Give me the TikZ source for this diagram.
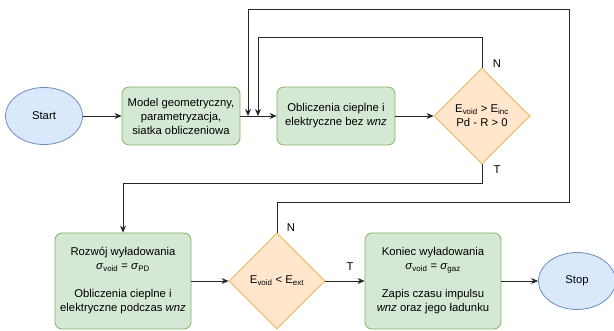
\documentclass[tikz,border=0pt]{standalone}
\usepackage{fontspec}
\setmainfont{Liberation Sans}
\usepackage{xcolor}
\usetikzlibrary{shapes.geometric, arrows.meta}

\definecolor{stepfill}{HTML}{D5E8D4}
\definecolor{stepline}{HTML}{82B366}
\definecolor{testfill}{HTML}{FFE6CC}
\definecolor{testline}{HTML}{E8B040}
\definecolor{termfill}{HTML}{DAE8FC}
\definecolor{termline}{HTML}{6C8EBF}

\begin{document}
\begin{tikzpicture}[
  x=1pt, y=1pt,
  every node/.style={font=\fontsize{11.3}{14}\selectfont, align=center},
  stepbox/.style={draw=stepline, fill=stepfill, rounded corners=7pt, line width=0.8pt, minimum width=118pt, minimum height=58pt, inner sep=1pt},
  bigbox/.style={stepbox, minimum width=136pt, minimum height=96pt},
  test/.style={diamond, draw=testline, fill=testfill, line width=0.8pt, minimum size=96pt, inner sep=0pt},
  term/.style={ellipse, draw=termline, fill=termfill, line width=0.8pt, minimum width=77pt, minimum height=57pt},
  lbl/.style={font=\fontsize{11.3}{14}\selectfont},
  arr/.style={-{Stealth[length=7pt,width=6pt]}, line width=0.8pt, draw=black!85}
]
\useasboundingbox (0,0) rectangle (614,331);

% main row
\node[term] (start) at (44,215) {Start};
\node[stepbox] (model) at (181,215) {Model geometryczny,\\parametryzacja,\\siatka obliczeniowa};
\node[stepbox] (oblicz) at (336,215) {Obliczenia cieplne i\\elektryczne bez \textit{wnz}};
\node[test] (warunek) at (482,215) {E\textsubscript{void} > E\textsubscript{inc}\\Pd - R > 0};

% lower row
\node[bigbox] (rozwoj) at (123,50) {Rozwój wyładowania\\\textit{σ}\textsubscript{void} = \textit{σ}\textsubscript{PD}\\[14pt]Obliczenia cieplne i\\elektryczne podczas \textit{wnz}};
\node[test] (gasniecie) at (277,50) {E\textsubscript{void} < E\textsubscript{ext}};
\node[bigbox] (koniec) at (433,50) {Koniec wyładowania\\\textit{σ}\textsubscript{void} = \textit{σ}\textsubscript{gaz}\\[14pt]Zapis czasu impulsu\\\textit{wnz} oraz jego ładunku};
\node[term] (stop) at (577,50) {Stop};

\coordinate (wejscie1) at (258,215);
\coordinate (wejscie2) at (248,215);
\coordinate (naroznik) at (569,322);

\draw[arr] (start) -- (model);
\draw[arr] (model) -- (oblicz);
\draw[arr] (oblicz) -- (warunek);
\draw[arr] (warunek.north) -- ++(0,30) -| (wejscie1);
\draw[arr] (warunek.south) -- ++(0,-19) -| (rozwoj.north);
\draw[arr] (rozwoj) -- (gasniecie);
\draw[arr] (gasniecie.north) -- ++(0,30) -| (naroznik) -| (wejscie2);
\draw[arr] (gasniecie) -- (koniec);
\draw[arr] (koniec) -- (stop);

\node[lbl] (n1) at (497,267) {N};
\node[lbl] (t1) at (497,161) {T};
\node[lbl] (n2) at (291,103) {N};
\node[lbl] (t2) at (350,64) {T};
\end{tikzpicture}
\end{document}
